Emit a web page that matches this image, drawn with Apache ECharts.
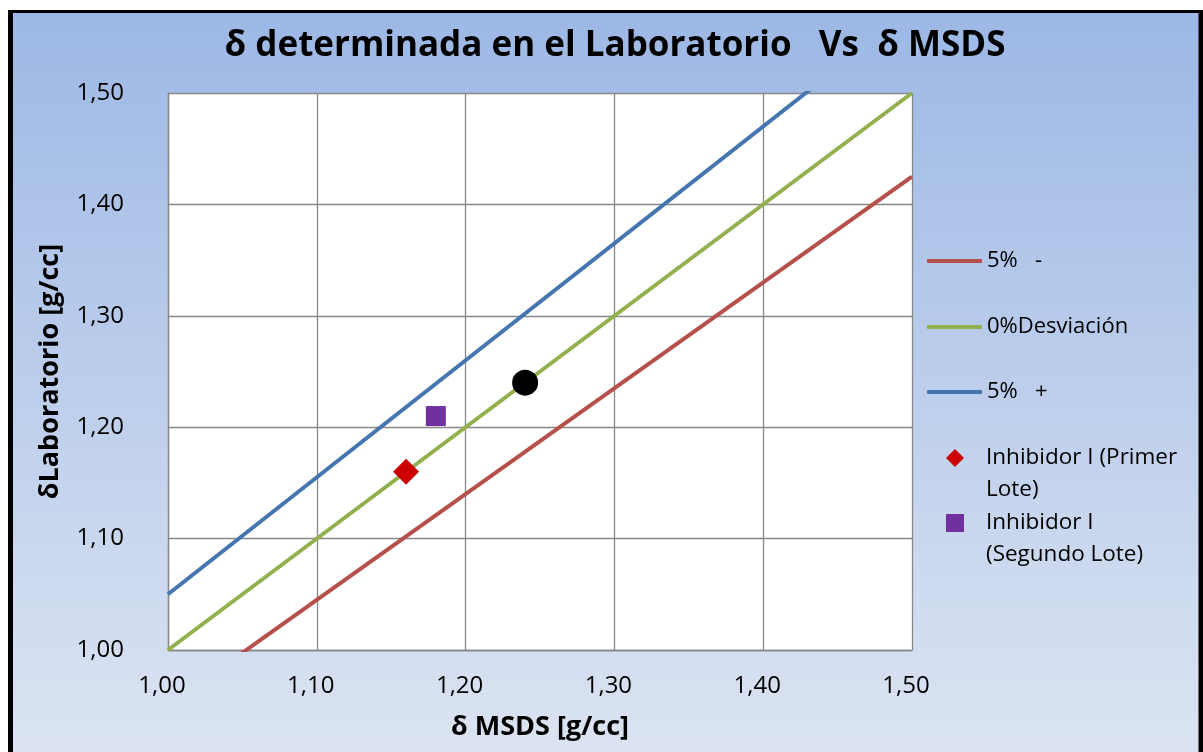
<!DOCTYPE html>
<html>
<head>
<meta charset="utf-8">
<script src="https://cdn.jsdelivr.net/npm/echarts@6/dist/echarts.min.js"></script>
<style>
html,body{margin:0;padding:0;background:#fff;overflow:hidden;}
#c{width:1203px;height:752px;}
</style>
</head>
<body>
<div id="c"></div>
<script>
// ---- data ----
var xTicks = [1.00, 1.10, 1.20, 1.30, 1.40, 1.50];
var yTicks = [1.00, 1.10, 1.20, 1.30, 1.40, 1.50];
var minus5X = [1.00, 1.50];
var minus5Y = [0.95, 1.425];
var zeroX = [1.00, 1.50];
var zeroY = [1.00, 1.50];
var plus5X = [1.00, 1.50];
var plus5Y = [1.05, 1.575];
var lote1 = [[1.16, 1.16]];
var lote2 = [[1.18, 1.21]];
var otro = [[1.24, 1.24]];
var seriesNames = ['5%   -', '0%Desviación', '5%   +', 'Inhibidor I (Primer\nLote)', 'Inhibidor I\n(Segundo Lote)'];
var seriesColors = ['#B5504B', '#92B04D', '#4676B0', '#CC0000', '#7030A0', '#000000'];

function pairs(xs, ys) { return xs.map(function (x, i) { return [x, ys[i]]; }); }
function fmt(v) { return v.toFixed(2).replace('.', ','); }

var FONT = 'Open Sans';
var chart = echarts.init(document.getElementById('c'));

function lineLegend(idx, top) {
  return {
    left: 927, top: top, padding: 0, orient: 'vertical',
    itemWidth: 55, itemHeight: 4,
    textStyle: { fontFamily: FONT, fontSize: 22, color: '#000', lineHeight: 24 },
    data: [{ name: seriesNames[idx], icon: 'roundRect', itemStyle: { color: seriesColors[idx] } }]
  };
}
function symLegend(idx, icon, top) {
  return {
    left: 946, top: top, padding: 0, orient: 'vertical',
    itemWidth: 18, itemHeight: 18,
    formatter: function (n) { return '\n' + n; },
    textStyle: { fontFamily: FONT, fontSize: 22.5, color: '#000', lineHeight: 32, padding: [0, 0, 0, 17] },
    data: [{ name: seriesNames[idx], icon: icon, itemStyle: { color: seriesColors[idx], opacity: 1 } }]
  };
}

var option = {
  animation: false,
  graphic: [
    { type: 'rect', z: -20, silent: true, shape: { x: 8, y: 10, width: 1210, height: 800 }, style: { fill: '#000' } },
    { type: 'rect', z: -19, silent: true, shape: { x: 13, y: 13, width: 1185.5, height: 800 },
      style: { fill: new echarts.graphic.LinearGradient(0, 0, 0, 1, [
        { offset: 0, color: '#9DB8E5' },
        { offset: 0.93, color: '#DCE4F2' },
        { offset: 1, color: '#DEE6F3' }
      ]) } }
  ],
  title: {
    text: 'δ determinada en el Laboratorio   Vs  δ MSDS',
    left: 610, textAlign: 'center', top: 24,
    textStyle: { fontFamily: FONT, fontSize: 35, fontWeight: 'bold', color: '#000' }
  },
  legend: [
    lineLegend(0, 249),
    lineLegend(1, 315),
    lineLegend(2, 380),
    symLegend(3, 'diamond', 410),
    symLegend(4, 'rect', 475)
  ],
  grid: { left: 168, right: 291, top: 93, bottom: 102, show: true, backgroundColor: '#fff', borderWidth: 0,
          outerBoundsMode: 'none', containLabel: false },
  xAxis: {
    type: 'value', min: xTicks[0], max: xTicks[xTicks.length - 1], interval: 0.1,
    name: 'δ MSDS [g/cc]', nameLocation: 'middle', nameGap: 64,
    nameTextStyle: { fontFamily: FONT, fontSize: 27, fontWeight: 'bold', color: '#000' },
    axisLine: { show: true, lineStyle: { color: '#888', width: 1.3 } },
    axisTick: { show: false },
    splitLine: { show: true, lineStyle: { color: '#888', width: 1.3 } },
    axisLabel: { formatter: fmt, fontFamily: FONT, fontSize: 24, color: '#000', margin: 24, padding: [0, 12, 0, 0] }
  },
  yAxis: {
    type: 'value', min: yTicks[0], max: yTicks[yTicks.length - 1], interval: 0.1,
    name: 'δLaboratorio [g/cc]', nameLocation: 'middle', nameGap: 104, nameRotate: 90,
    nameTextStyle: { fontFamily: FONT, fontSize: 27, fontWeight: 'bold', color: '#000' },
    axisLine: { show: true, lineStyle: { color: '#888', width: 1.3 } },
    axisTick: { show: false },
    splitLine: { show: true, lineStyle: { color: '#888', width: 1.3 } },
    axisLabel: { formatter: fmt, fontFamily: FONT, fontSize: 24, color: '#000', margin: 44 }
  },
  series: [
    { name: seriesNames[0], type: 'line', data: pairs(minus5X, minus5Y), symbol: 'none', clip: true,
      lineStyle: { color: seriesColors[0], width: 4 }, itemStyle: { color: seriesColors[0] } },
    { name: seriesNames[1], type: 'line', data: pairs(zeroX, zeroY), symbol: 'none', clip: true,
      lineStyle: { color: seriesColors[1], width: 4 }, itemStyle: { color: seriesColors[1] } },
    { name: seriesNames[2], type: 'line', data: pairs(plus5X, plus5Y), symbol: 'none', clip: true,
      lineStyle: { color: seriesColors[2], width: 4 }, itemStyle: { color: seriesColors[2] } },
    { name: seriesNames[3], type: 'scatter', data: lote1, symbol: 'diamond', symbolSize: 26, z: 5,
      itemStyle: { color: seriesColors[3], opacity: 1 } },
    { name: seriesNames[4], type: 'scatter', data: lote2, symbol: 'rect', symbolSize: 20, z: 5,
      itemStyle: { color: seriesColors[4], opacity: 1 } },
    { name: 'punto', type: 'scatter', data: otro, symbol: 'circle', symbolSize: 26, z: 5,
      itemStyle: { color: seriesColors[5], opacity: 1 } }
  ]
};
chart.setOption(option);
</script>
</body>
</html>
